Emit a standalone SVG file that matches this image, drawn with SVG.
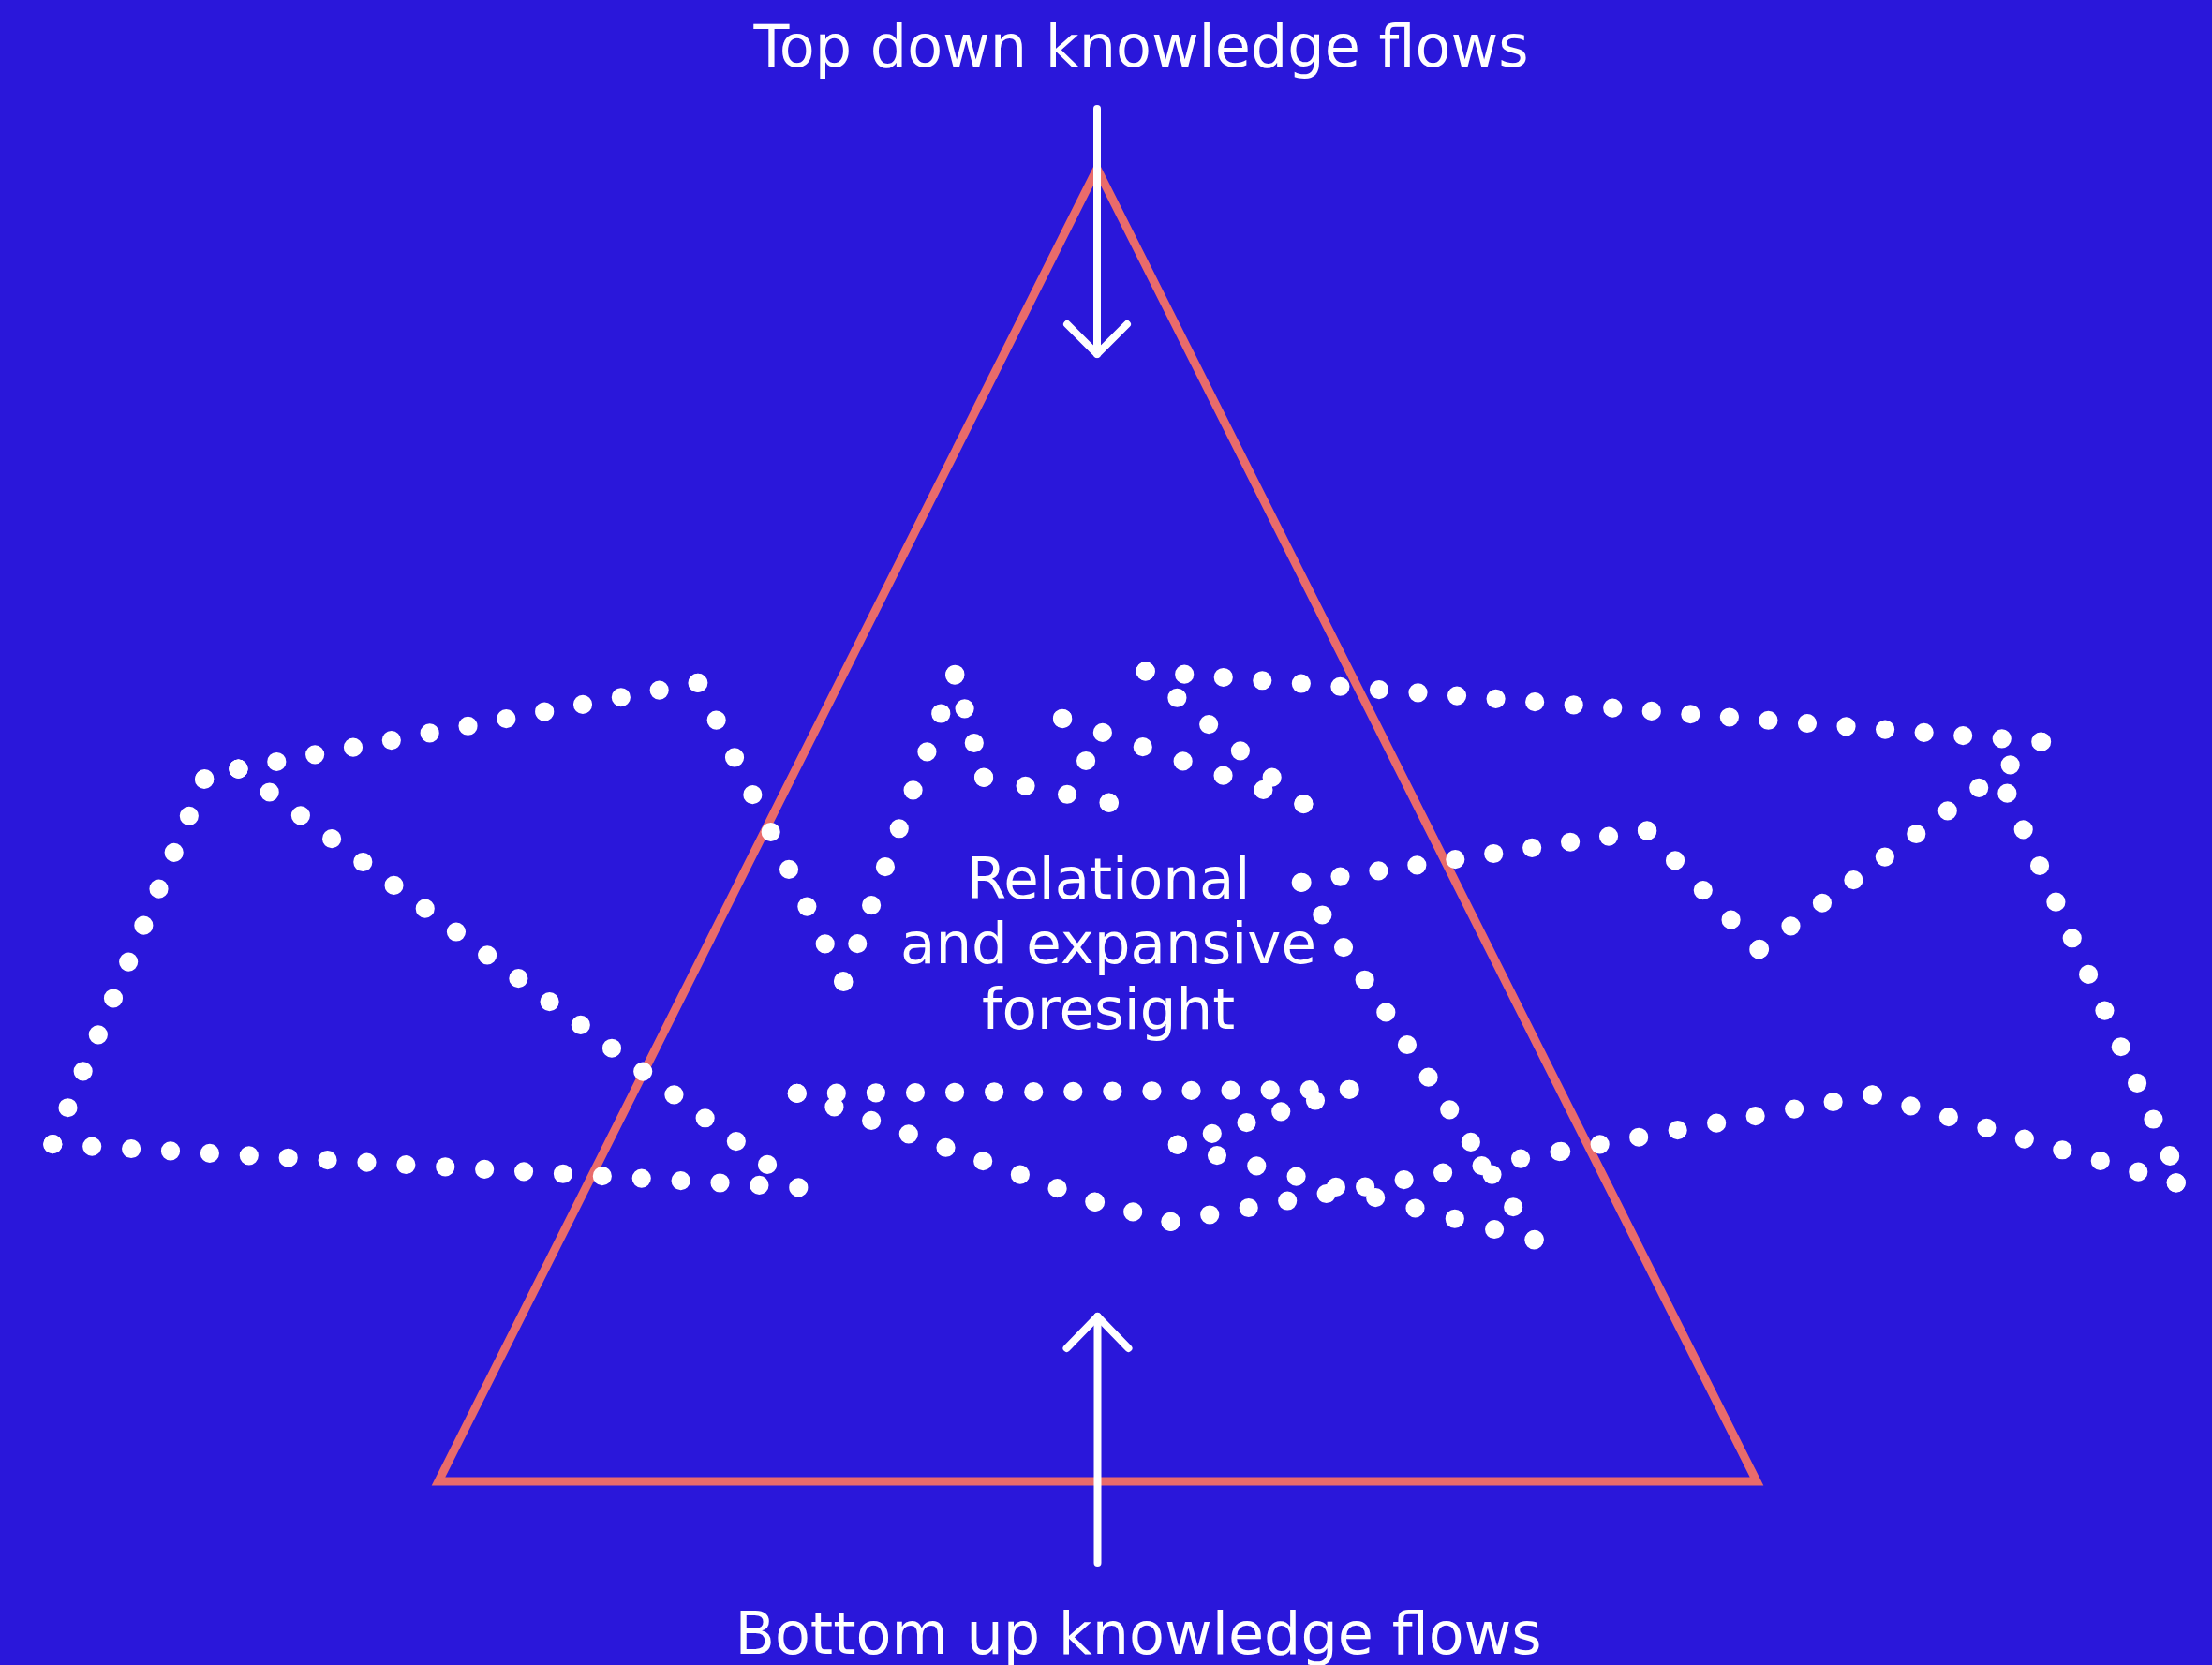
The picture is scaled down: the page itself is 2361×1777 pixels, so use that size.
<svg xmlns="http://www.w3.org/2000/svg" width="2361" height="1777" viewBox="0 0 2361 1777">
<style>
  .lbl { font-family: "DejaVu Sans", Verdana, sans-serif; fill: #FFFFFF; text-anchor: middle; }
  .tri { fill: none; stroke: #E96B6B; stroke-width: 9; stroke-linejoin: miter; }
  .arr { fill: none; stroke: #FFFFFF; stroke-width: 8; stroke-linecap: round; stroke-linejoin: round; }
  .dots path { fill: none; stroke: #FFFFFF; stroke-width: 13.4; stroke-linecap: round; stroke-dasharray: 0 1; }
</style>
<rect id="background" x="0" y="0" width="2361" height="1777" fill="#2A17DA"/>

<g id="triangle">
  <polygon class="tri" points="1171,180 468,1581 1875,1581"/>
</g>

<g id="dotted-scribbles" class="dots" transform="scale(1.50574)">
  <path d="M37.4,811 L145,552" pathLength="10.02"/>
  <path d="M145,552 L169,545" pathLength="1.002"/>
  <path d="M169,545 L495,484" pathLength="12.02"/>
  <path d="M495,484 L598,696" pathLength="8.02"/>
  <path d="M598,696 L677,478" pathLength="8.02"/>
  <path d="M169,545 L544.4,825.8" pathLength="17.02"/>
  <path d="M37.4,811 L566.6,841.7" pathLength="19.02"/>
  <path d="M677,478 L697.4,551.2" pathLength="3.01"/>
  <path d="M697.4,551.2 L786.3,569" pathLength="3.01"/>
  <path d="M786.3,569 L753.1,509.2" pathLength="2.01"/>
  <path d="M753.1,509.2 L924.3,570" pathLength="6.01"/>
  <path d="M812,475.8 L924.3,570" pathLength="5.01"/>
  <path d="M812,475.8 L1447.2,525.8" pathLength="23.02"/>
  <path d="M1447.2,525.8 L1246.8,673" pathLength="9.02"/>
  <path d="M1246.8,673 L1167.5,588.7" pathLength="4.01"/>
  <path d="M1167.5,588.7 L922.3,625.5" pathLength="9.02"/>
  <path d="M922.3,625.5 L1088,879" pathLength="11.02"/>
  <path d="M1422.8,562.3 L1538.2,819.5" pathLength="10.02"/>
  <path d="M1538.2,819.5 L1542.6,838.4" pathLength="1.002"/>
  <path d="M1542.6,838.4 L1327,776" pathLength="8.02"/>
  <path d="M1327,776 L1106,816.2" pathLength="8.02"/>
  <path d="M830,866 L1106,816.2" pathLength="10.02"/>
  <path d="M565,775 L776.4,852" pathLength="8.02"/>
  <path d="M776.4,852 L830,866" pathLength="2.01"/>
  <path d="M565,775 L956.8,772.2" pathLength="14.02"/>
  <path d="M956.8,772.2 L834.6,811.4" pathLength="5.01"/>
  <path d="M834.6,811.4 L1088,879" pathLength="9.02"/>
</g>

<g id="connectors">
  <g id="arrow-top-down">
    <path class="arr" d="M1171,116 L1171,378"/>
    <path class="arr" d="M1139,346 L1171,378 L1203,346"/>
  </g>
  <g id="arrow-bottom-up">
    <path class="arr" d="M1171.5,1668 L1171.5,1405"/>
    <path class="arr" d="M1138.5,1439 L1171.5,1405 L1204.5,1439"/>
  </g>
</g>

<g id="label-top">
  <text class="lbl" x="1218" y="71" font-size="62">Top down knowledge flows</text>
</g>
<g id="label-center">
  <text class="lbl" x="1183" y="959" font-size="61">Relational</text>
  <text class="lbl" x="1183" y="1028" font-size="61">and expansive</text>
  <text class="lbl" x="1183" y="1098" font-size="61">foresight</text>
</g>
<g id="label-bottom">
  <text class="lbl" x="1215" y="1765" font-size="62">Bottom up knowledge flows</text>
</g>
</svg>
